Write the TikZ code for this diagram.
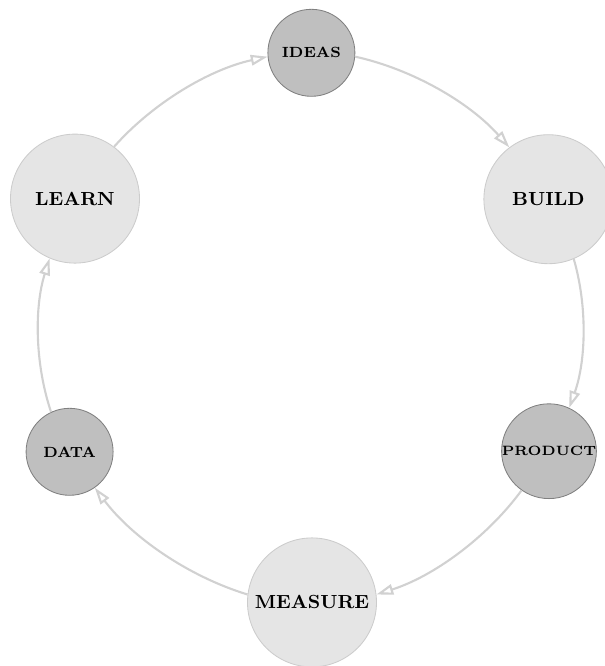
\documentclass[tikz,border=0pt]{standalone}
\usepackage{tikz}
\usetikzlibrary{arrows.meta}

\begin{document}
\begin{tikzpicture}[
    stage/.style={circle, draw=black!20, fill=black!10, minimum size=2.15cm, inner sep=0pt, font=\small\bfseries},
    result/.style={circle, draw=black!50, fill=black!25, minimum size=1.45cm, inner sep=0pt, font=\scriptsize\bfseries},
    flow/.style={-{Triangle[open, length=8pt, width=5pt]}, line width=1pt, black!18, bend left=18, looseness=0.85}
  ]
    \useasboundingbox (-5.19,-5.68) rectangle (4.88,5.42);
    % outputs on the vertical axis and on the diagonals
    \node[result] (ideas) at (0, 4.54) {IDEAS};
    \node[stage] (build) at (3.95, 2.1) {BUILD};
    \node[result, font=\fontsize{6.4}{7}\selectfont\bfseries] (product) at (3.96, -2.1) {PRODUCT};
    \node[stage] (measure) at (0.01, -4.62) {MEASURE};
    \node[result] (data) at (-4.03, -2.11) {DATA};
    \node[stage] (learn) at (-3.94, 2.11) {LEARN};
    % clockwise loop, following the big circle
    \foreach \from/\to in {ideas.-5/build.127, build.-67/product.65, product.-125/measure.7,
                           measure.173/data.-55, data.115/learn.247, learn.53/ideas.185}
        \draw[flow] (\from) to (\to);
\end{tikzpicture}
\end{document}
